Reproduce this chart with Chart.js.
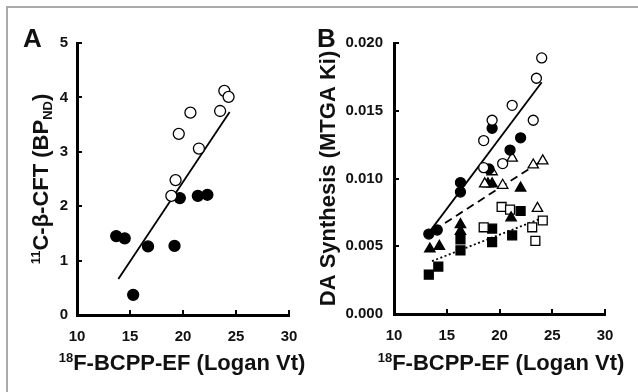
<!DOCTYPE html>
<html lang="en">
<head>
<meta charset="UTF-8">
<title>BCPP-EF vs CFT and DA synthesis</title>
<script src="https://cdn.jsdelivr.net/npm/chart.js"></script>
<style>
  html, body { margin: 0; padding: 0; background: #fff; }
  #wrap { position: relative; width: 638px; height: 392px; overflow: hidden; background: #fff; }
  #frame { position: absolute; left: 6px; top: 6px; width: 700px; height: 500px;
           border-top: 2px solid #aaa; border-left: 2px solid #aaa; }
  #cA { position: absolute; left: 0; top: 0; }
  #cB { position: absolute; left: 300px; top: 0; }
</style>
</head>
<body>
<div id="wrap">
  <div id="frame"></div>
  <canvas id="cA" width="320" height="392"></canvas>
  <canvas id="cB" width="338" height="392"></canvas>
</div>
<script>
// ---- panel A data ----
const aOpenX = [23.9, 24.3, 20.7, 19.6, 23.5, 21.5, 19.3, 18.9];
const aOpenY = [4.12, 4.01, 3.72, 3.33, 3.75, 3.06, 2.48, 2.19];
const aFillX = [19.7, 21.4, 22.3, 13.7, 14.5, 16.7, 19.2, 15.3];
const aFillY = [2.15, 2.19, 2.21, 1.45, 1.41, 1.26, 1.27, 0.37];
const aFitX = [13.9, 24.4];
const aFitY = [0.66, 3.73];

// ---- panel B data ----
const bOpenCircX = [24.0, 23.5, 21.2, 19.3, 18.5, 23.2, 20.3, 18.5];
const bOpenCircY = [0.0189, 0.0174, 0.0154, 0.0143, 0.0128, 0.0143, 0.0111, 0.0108];
const bFillCircX = [19.3, 22.0, 21.0, 19.0, 16.3, 16.3, 13.3, 14.1];
const bFillCircY = [0.0137, 0.0130, 0.0121, 0.0107, 0.0097, 0.0090, 0.0059, 0.0062];
const bOpenTriX = [24.1, 23.2, 21.2, 19.3, 18.6, 20.3, 23.6];
const bOpenTriY = [0.0113, 0.0110, 0.0115, 0.0105, 0.0096, 0.0095, 0.0078];
const bFillTriX = [18.9, 19.3, 22.0, 21.1, 16.3, 16.3, 13.4, 14.3];
const bFillTriY = [0.0096, 0.0096, 0.0093, 0.0071, 0.0066, 0.0061, 0.0048, 0.0050];
const bOpenSqX = [20.2, 21.0, 18.5, 23.1, 24.1, 23.4];
const bOpenSqY = [0.0079, 0.0077, 0.0064, 0.0064, 0.0069, 0.0054];
const bFillSqX = [22.0, 19.3, 21.2, 19.3, 16.3, 16.3, 14.2, 13.3];
const bFillSqY = [0.0076, 0.0063, 0.0058, 0.0053, 0.0055, 0.0047, 0.0035, 0.0029];
const bCircFitX = [13.4, 24.0], bCircFitY = [0.0061, 0.0171];
const bTriFitX = [13.8, 24.0], bTriFitY = [0.0062, 0.0113];
const bSqFitX = [13.6, 24.1], bSqFitY = [0.0039, 0.0071];

const FONT = '"Liberation Sans", Arial, sans-serif';
Chart.defaults.font.family = FONT;

const pts = (xs, ys) => xs.map((x, i) => ({ x, y: ys[i] }));

function marker(xs, ys, style, filled, r) {
  return {
    type: 'scatter', data: pts(xs, ys), pointStyle: style, pointRadius: r,
    pointHoverRadius: r, pointBorderWidth: 1.3, pointBorderColor: '#000',
    pointBackgroundColor: filled ? '#000' : '#fff'
  };
}
function fitLine(xs, ys, dash) {
  return {
    type: 'line', data: pts(xs, ys), borderColor: '#000', borderWidth: 1.8,
    borderDash: dash, pointRadius: 0, fill: false
  };
}

// draw text with superscript / subscript pieces
function richText(ctx, parts, size, x, y, rotate) {
  const small = Math.round(size * 0.6);
  let w = 0;
  parts.forEach(p => {
    ctx.font = `bold ${p.s ? small : size}px ${FONT}`;
    p.w = ctx.measureText(p.t).width;
    w += p.w;
  });
  ctx.save();
  ctx.translate(x, y);
  if (rotate) ctx.rotate(-Math.PI / 2);
  ctx.textAlign = 'left';
  ctx.textBaseline = 'alphabetic';
  ctx.fillStyle = '#111';
  let cx = -w / 2;
  parts.forEach(p => {
    ctx.font = `bold ${p.s ? small : size}px ${FONT}`;
    const dy = p.s === 'sup' ? -size * 0.38 : p.s === 'sub' ? size * 0.2 : 0;
    ctx.fillText(p.t, cx, dy);
    cx += p.w;
  });
  ctx.restore();
}

// inward tick marks + titles
function decor(cfg) {
  return {
    id: 'decor',
    afterDraw(chart) {
      const ctx = chart.ctx, a = chart.chartArea;
      const xs = chart.scales.x, ys = chart.scales.y;
      ctx.save();
      ctx.strokeStyle = '#000';
      ctx.lineWidth = 2;
      xs.ticks.forEach(t => {
        const px = Math.round(xs.getPixelForValue(t.value));
        ctx.beginPath(); ctx.moveTo(px, a.bottom); ctx.lineTo(px, a.bottom - 5); ctx.stroke();
      });
      ys.ticks.forEach(t => {
        const py = Math.round(ys.getPixelForValue(t.value));
        ctx.beginPath(); ctx.moveTo(a.left, py); ctx.lineTo(a.left + 5, py); ctx.stroke();
      });
      ctx.restore();

      ctx.save();
      ctx.fillStyle = '#111';
      ctx.font = `bold 26px ${FONT}`;
      ctx.textBaseline = 'alphabetic';
      ctx.fillText(cfg.letter, cfg.letterX, 47);
      ctx.restore();
      richText(ctx, [{ t: '18', s: 'sup' }, { t: 'F-BCPP-EF (Logan Vt)' }], 22, cfg.xTitleX, 370, false);
      richText(ctx, cfg.yTitle, 22, cfg.yTitleX, (a.top + a.bottom) / 2, true);
    }
  };
}

function scales(yMax, yStep, yFmt, yWidth, xHeight, yPad) {
  const tickFont = { size: 15, weight: 'bold', family: FONT };
  return {
    x: {
      type: 'linear', min: 10, max: 30,
      ticks: { stepSize: 5, padding: 13, font: tickFont, color: '#111' },
      grid: { display: false, drawTicks: false },
      border: { display: true, color: '#000', width: 3 },
      afterFit: s => { s.height = xHeight; }
    },
    y: {
      type: 'linear', min: 0, max: yMax,
      ticks: { stepSize: yStep, padding: yPad, font: tickFont, color: '#111', callback: yFmt },
      grid: { display: false, drawTicks: false },
      border: { display: true, color: '#000', width: 3 },
      afterFit: s => { s.width = yWidth; }
    }
  };
}

const common = {
  responsive: false, animation: false,
  plugins: { legend: { display: false }, tooltip: { enabled: false } }
};

new Chart(document.getElementById('cA'), {
  data: {
    datasets: [
      marker(aOpenX, aOpenY, 'circle', false, 5.5),
      marker(aFillX, aFillY, 'circle', true, 5.5),
      fitLine(aFitX, aFitY, [])
    ]
  },
  options: Object.assign({}, common, {
    layout: { padding: { left: 0, top: 43, right: 31, bottom: 0 } },
    scales: scales(5, 1, v => v, 77, 77, 9)
  }),
  plugins: [decor({
    letter: 'A', letterX: 23, xTitleX: 182, yTitleX: 48,
    yTitle: [{ t: '11', s: 'sup' }, { t: 'C-β-CFT (BP' }, { t: 'ND', s: 'sub' }, { t: ')' }]
  })]
});

new Chart(document.getElementById('cB'), {
  data: {
    datasets: [
      marker(bOpenCircX, bOpenCircY, 'circle', false, 5),
      marker(bFillCircX, bFillCircY, 'circle', true, 5),
      marker(bOpenTriX, bOpenTriY, 'triangle', false, 6),
      marker(bFillTriX, bFillTriY, 'triangle', true, 6),
      marker(bOpenSqX, bOpenSqY, 'rect', false, 6.3),
      marker(bFillSqX, bFillSqY, 'rect', true, 6.3),
      fitLine(bCircFitX, bCircFitY, []),
      fitLine(bTriFitX, bTriFitY, [8, 5]),
      fitLine(bSqFitX, bSqFitY, [2, 2.5])
    ]
  },
  options: Object.assign({}, common, {
    layout: { padding: { left: 0, top: 43, right: 33, bottom: 0 } },
    scales: scales(0.02, 0.005, v => v.toFixed(3), 94, 78, 11)
  }),
  plugins: [decor({
    letter: 'B', letterX: 17, xTitleX: 201, yTitleX: 35,
    yTitle: [{ t: 'DA Synthesis (MTGA Ki)' }]
  })]
});
</script>
</body>
</html>
